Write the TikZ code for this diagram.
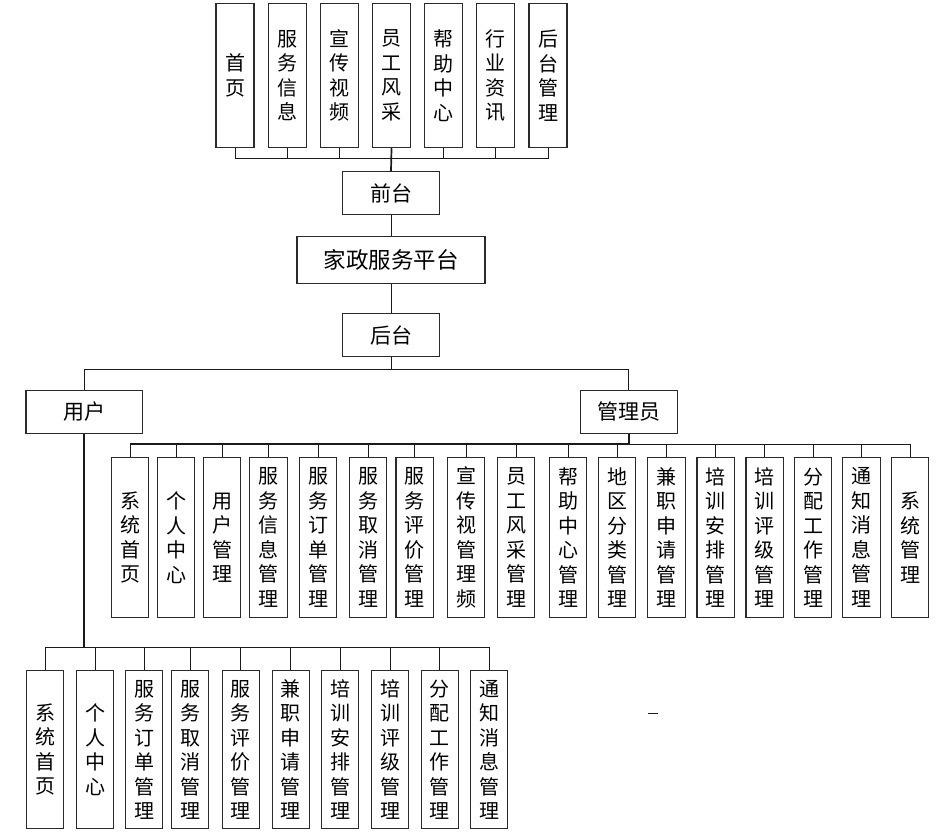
\documentclass[tikz,border=0pt]{standalone}
\usepackage{fontspec}
\newfontfamily\cjk{Noto Sans CJK SC}
\usetikzlibrary{positioning, calc}
\definecolor{boxBorder}{HTML}{2B2B2B}
\definecolor{lineBlack}{HTML}{1A1A1A}

\begin{document}
\begin{tikzpicture}[
  x=1pt, y=-1pt,
  every node/.style={font=\cjk\fontsize{20}{24.5}\selectfont},
  tallbox/.style={
    draw=boxBorder, line width=1.1pt, fill=white, anchor=north,
    align=center, inner sep=0pt, minimum width=37.5pt
  },
  widebox/.style={
    draw=boxBorder, line width=1.1pt, fill=white,
    minimum height=43pt, inner sep=0pt,
    font=\cjk\fontsize{21}{24}\selectfont
  },
  link/.style={draw=lineBlack, line width=0.9pt},
  trunk/.style={draw=lineBlack, line width=1.7pt}
]
\useasboundingbox (0,0) rectangle (948,832);

% front pages
\foreach \txt [count=\i from 0] in {首\\页, 服\\务\\信\\息, 宣\\传\\视\\频,
    员\\工\\风\\采, 帮\\助\\中\\心, 行\\业\\资\\讯, 后\\台\\管\\理}
  \node[tallbox, minimum width=38pt, minimum height=144.5pt]
    (top\i) at ({235+52.17*\i}, 2.7) {\txt};

\node[widebox, minimum width=97pt] (front) at (391,193) {前台};
\node[widebox, below=21pt of front, minimum width=188pt, minimum height=47pt,
  font=\cjk\fontsize{22.5}{26}\selectfont] (platform) {家政服务平台};
\node[widebox, below=29pt of platform, minimum width=97pt] (back) {后台};

\node[widebox, minimum width=116.7pt, minimum height=42.7pt] (user) at (84.3,412) {用户};
\node[widebox, minimum width=97pt, minimum height=42.7pt] (admin) at (628.8,412) {管理员};

% admin functions
\foreach \x/\txt [count=\i] in {130/系\\统\\首\\页, 176/个\\人\\中\\心,
    222/用\\户\\管\\理, 268.5/服\\务\\信\\息\\管\\理, 318/服\\务\\订\\单\\管\\理,
    368/服\\务\\取\\消\\管\\理, 414.7/服\\务\\评\\价\\管\\理,
    466/宣\\传\\视\\管\\理\\频, 516/员\\工\\风\\采\\管\\理,
    568/帮\\助\\中\\心\\管\\理, 617/地\\区\\分\\类\\管\\理,
    666.5/兼\\职\\申\\请\\管\\理, 715.7/培\\训\\安\\排\\管\\理,
    764.7/培\\训\\评\\级\\管\\理, 813/分\\配\\工\\作\\管\\理,
    861.5/通\\知\\消\\息\\管\\理, 910/系\\统\\管\\理}
  \node[tallbox, minimum height=160.6pt] (a\i) at (\x,456.7) {\txt};

% user functions
\foreach \x/\txt [count=\i] in {45.3/系\\统\\首\\页, 95/个\\人\\中\\心,
    144/服\\务\\订\\单\\管\\理, 190.3/服\\务\\取\\消\\管\\理,
    240.7/服\\务\\评\\价\\管\\理, 290.7/兼\\职\\申\\请\\管\\理,
    340.3/培\\训\\安\\排\\管\\理, 390/培\\训\\评\\级\\管\\理,
    439.7/分\\配\\工\\作\\管\\理, 489.3/通\\知\\消\\息\\管\\理}
  \node[tallbox, minimum width=37pt, minimum height=158.3pt] (u\i) at (\x,670) {\txt};

% bus points
\coordinate (frontbus) at (391,158);
\coordinate (rolebus) at (391,369.3);
\coordinate (adminbus) at (628.8,444.3);
\coordinate (userbus) at (84.3,647.7);

% connectors
\foreach \i in {0,...,6}
  \draw[link] (top\i.south) |- (frontbus);
\draw[trunk] (top3.south) -- (front.north);
\draw[link] (front) -- (platform);
\draw[link] (platform) -- (back);
\draw[link] (back) -- (rolebus);
\draw[link] (user.north) |- (rolebus);
\draw[link] (admin.north) |- (rolebus);
\draw[trunk] (admin.south) -- (adminbus);
\draw[trunk] (a1.north |- adminbus) -- (adminbus);
\foreach \i in {1,...,17}
  \draw[link] (a\i.north) |- (adminbus);
\draw[trunk] (user.south) -- (userbus);
\foreach \i in {1,...,10}
  \draw[link] (u\i.north) |- (userbus);

\draw[link, line width=1.3pt] (648.3,713.7) -- (657.7,713.7);

\end{tikzpicture}
\end{document}
